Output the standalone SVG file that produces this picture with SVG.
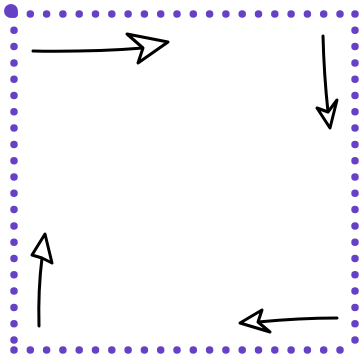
<svg xmlns="http://www.w3.org/2000/svg" width="362" height="358" viewBox="0 0 362 358">
<style>
.dots{fill:none;stroke:#6741c5;stroke-width:7.5;stroke-linecap:round;stroke-dasharray:0 16.3}
.shaft{fill:none;stroke:#000;stroke-width:3;stroke-linecap:round;stroke-linejoin:round}
.head{fill:#fff;stroke:#000;stroke-width:3;stroke-linejoin:round}
</style>
<rect width="362" height="358" fill="#fff"/>
<g id="frame">
<line class="dots" x1="14" y1="14" x2="355" y2="14"/>
<line class="dots" x1="355" y1="14" x2="355" y2="350"/>
<line class="dots" x1="14" y1="350" x2="355" y2="350"/>
<line class="dots" x1="14" y1="14" x2="14" y2="350"/>
<circle cx="11" cy="11" r="7" fill="#6741c5"/>
</g>
<g id="connectors">
<g id="arrow-top">
<path class="shaft" d="M33 51 Q90 52 143 48"/>
<path class="head" d="M127 34 L168 42 L138 63 L143 48 Z"/>
</g>
<g id="arrow-right">
<path class="shaft" d="M323 36 Q324 75 328 112"/>
<path class="head" d="M317 108 L330 128 L337 100 L328 112 Z"/>
</g>
<g id="arrow-bottom">
<path class="shaft" d="M337 318 Q300 318 258 322"/>
<path class="head" d="M262 310 L240 323 L270 332 L258 322 Z"/>
</g>
<g id="arrow-left">
<path class="shaft" d="M39 326 Q38 290 42 258"/>
<path class="head" d="M32 255 L45 234 L52 263 L42 258 Z"/>
</g>
</g>
</svg>
